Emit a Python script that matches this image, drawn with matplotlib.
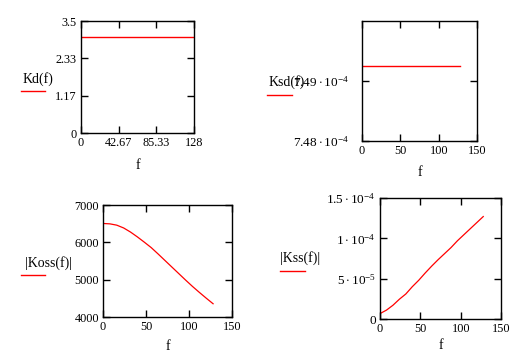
import matplotlib
matplotlib.use('Agg')
import matplotlib.pyplot as plt
from matplotlib.lines import Line2D

plt.rcParams['font.family'] = 'Liberation Serif'
plt.rcParams['mathtext.fontset'] = 'custom'
plt.rcParams['mathtext.rm'] = 'Liberation Serif'
plt.rcParams['mathtext.it'] = 'Liberation Serif'
plt.rcParams['font.size'] = 8.8

# data
f_kd = [0, 128]
kd = [3.0, 3.0]

f_ksd = [0, 128]
ksd = [7.4925e-4, 7.4925e-4]

f_k = [0, 8, 16, 24, 32, 40, 48, 56, 64, 72, 80, 88, 96, 104, 112, 120, 128]
koss = [6505, 6495, 6460, 6385, 6275, 6145, 6005, 5860, 5690, 5515, 5340,
        5165, 4990, 4820, 4660, 4505, 4355]
kss = [6.7e-6, 11e-6, 17e-6, 24.5e-6, 31e-6, 40e-6, 48e-6, 57e-6, 65.5e-6,
       73.5e-6, 81e-6, 88.5e-6, 97e-6, 104.5e-6, 112e-6, 119.5e-6, 127e-6]

W, H = 526, 353
fig = plt.figure(figsize=(W / 100, H / 100), dpi=100)


def make_axes(left, top, right, bottom):
    # pixel box -> figure fractions
    ax = fig.add_axes([left / W, 1 - bottom / H, (right - left) / W, (bottom - top) / H])
    for s in ax.spines.values():
        s.set_linewidth(1.0)
    ax.tick_params(direction='in', length=5, width=1, top=True, right=True, pad=3,
                   labelsize=8.8)
    return ax


def legend_label(text, tx, ty, lx0, lx1, ly):
    fig.text(tx / W, 1 - ty / H, text, ha='left', va='center', fontsize=10)
    fig.add_artist(Line2D([lx0 / W, lx1 / W], [1 - ly / H, 1 - ly / H],
                          color='red', lw=1, transform=fig.transFigure))


# Kd(f)
ax1 = make_axes(81, 21, 194, 133)
ax1.plot(f_kd, kd, color='red', lw=1)
ax1.set_xlim(0, 128)
ax1.set_ylim(0, 3.5)
ax1.set_xticks([0, 42.67, 85.33, 128])
ax1.set_xticklabels(['0', '42.67', '85.33', '128'])
ax1.set_yticks([0, 1.17, 2.33, 3.5])
ax1.set_yticklabels(['0', '1.17', '2.33', '3.5'])
ax1.set_xlabel('f', fontsize=10, labelpad=7)
legend_label('Kd(f)', 23, 79, 21, 45, 91)

# Ksd(f)
ax2 = make_axes(362, 21, 477, 141)
ax2.plot(f_ksd, ksd, color='red', lw=1)
ax2.set_xlim(0, 150)
ax2.set_ylim(7.48e-4, 7.50e-4)
ax2.set_xticks([0, 50, 100, 150])
ax2.set_yticks([7.48e-4, 7.49e-4])
ax2.set_yticklabels([r'$7.48\cdot10^{-4}$', r'$7.49\cdot10^{-4}$'], fontsize=9.5)
ax2.tick_params(axis='y', pad=9)
ax2.set_xlabel('f', fontsize=10, labelpad=6)
legend_label('Ksd(f)', 269, 82, 267, 292, 95)

# |Koss(f)|
ax3 = make_axes(103, 205, 232, 317)
ax3.plot(f_k, koss, color='red', lw=0.9)
ax3.set_xlim(0, 150)
ax3.set_ylim(4000, 7000)
ax3.set_xticks([0, 50, 100, 150])
ax3.set_yticks([4000, 5000, 6000, 7000])
ax3.set_xlabel('f', fontsize=10, labelpad=5)
legend_label('|Koss(f)|', 25, 263, 21, 45, 275)

# |Kss(f)|
ax4 = make_axes(380, 198, 501, 319)
ax4.plot(f_k, kss, color='red', lw=0.9)
ax4.set_xlim(0, 150)
ax4.set_ylim(0, 1.5e-4)
ax4.set_xticks([0, 50, 100, 150])
ax4.set_yticks([0, 5e-5, 1e-4, 1.5e-4])
ax4.set_yticklabels(['0', r'$5\cdot10^{-5}\enspace\;$', r'$1\cdot10^{-4}\enspace\;$',
                     r'$1.5\cdot10^{-4}\enspace\;$'], fontsize=9.5)
ax4.set_xlabel('f', fontsize=10, labelpad=3)
legend_label('|Kss(f)|', 280, 258, 280, 305, 271)

fig.savefig('out.png', dpi=100)
